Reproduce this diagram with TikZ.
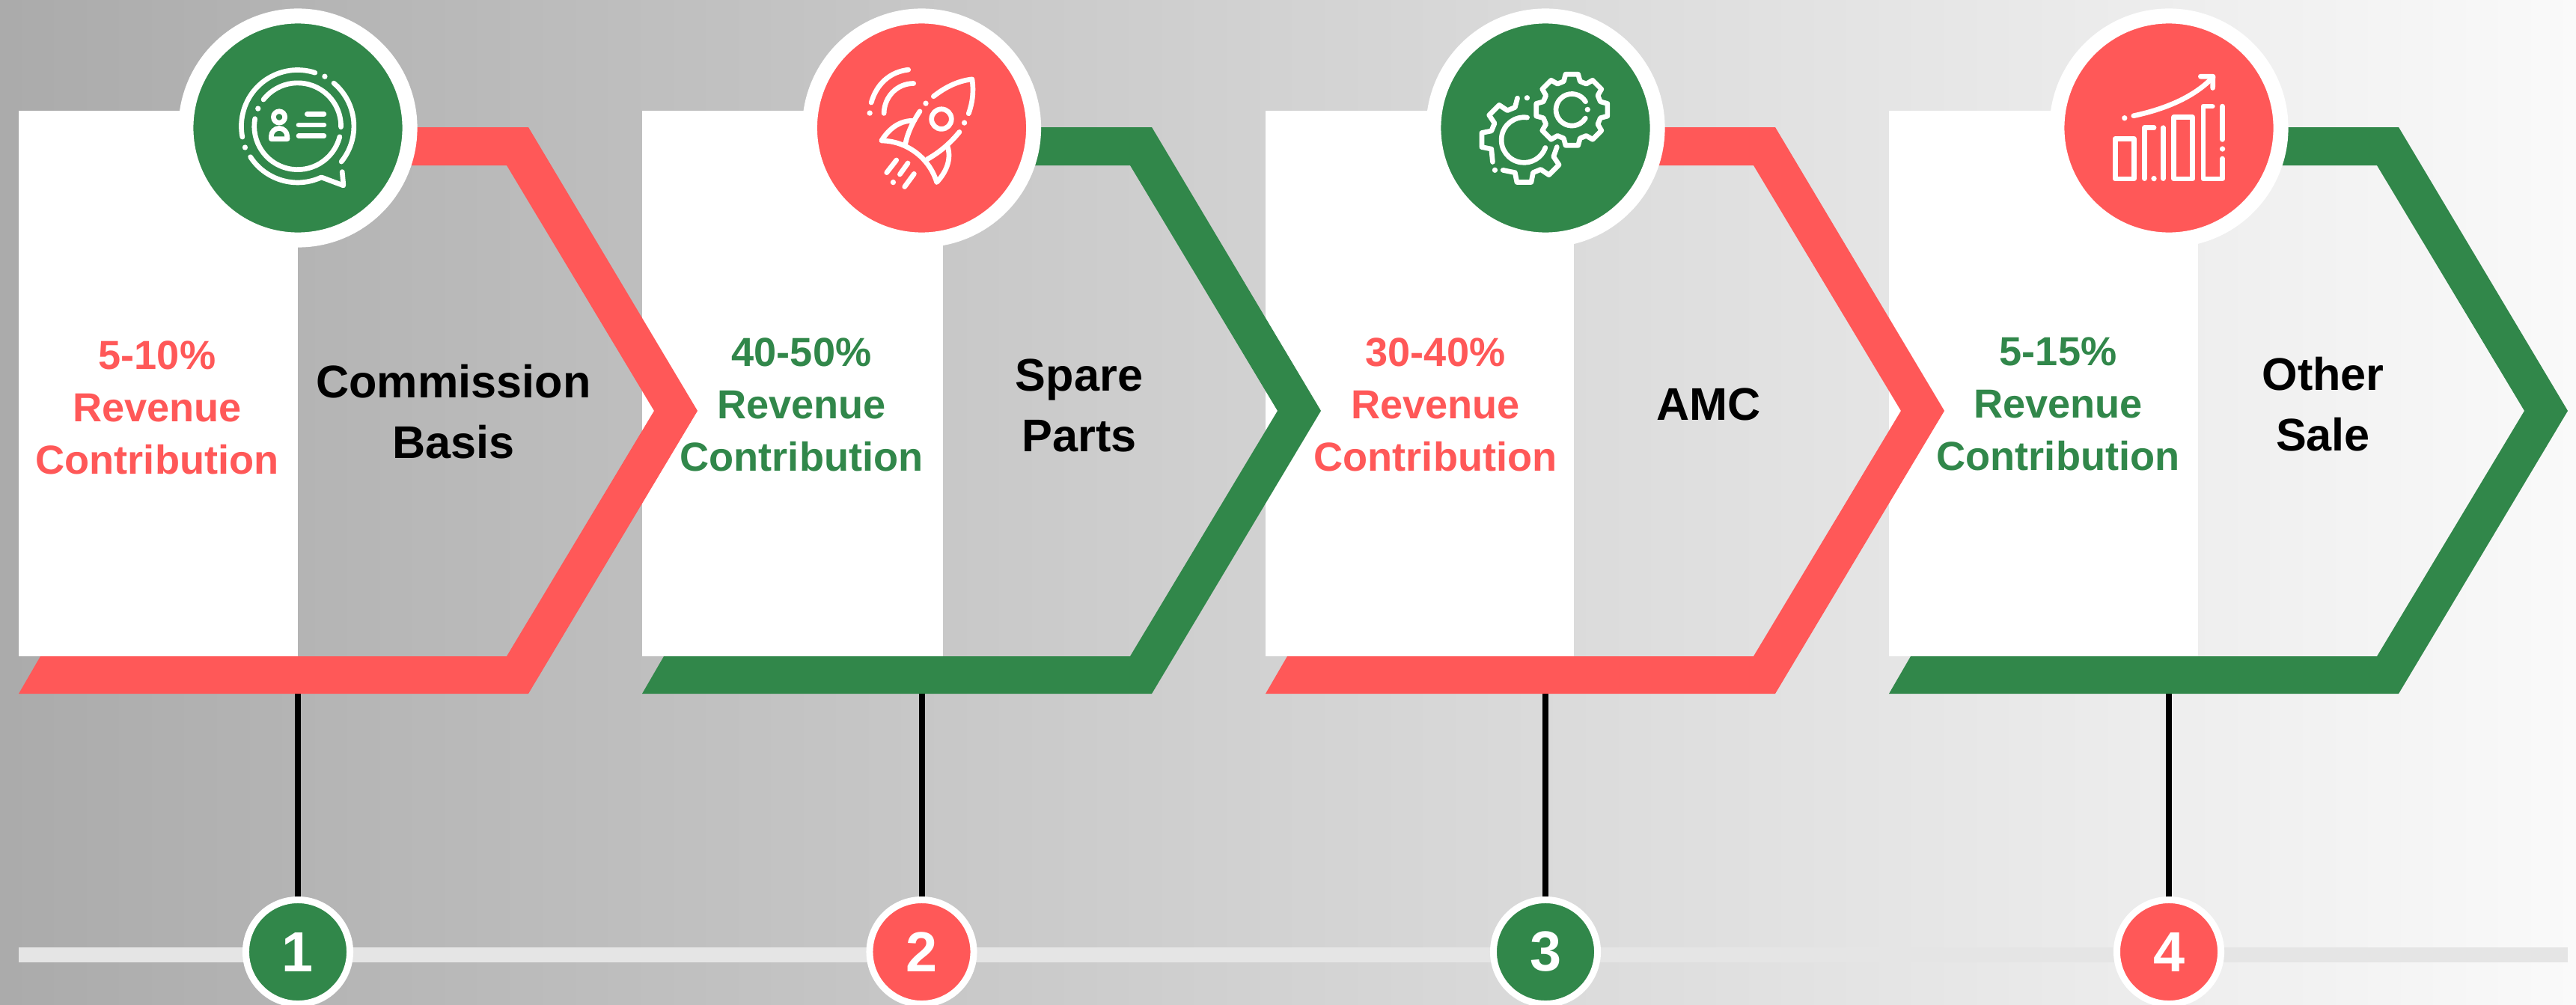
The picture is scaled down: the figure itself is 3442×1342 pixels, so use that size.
\documentclass[tikz,border=0pt]{standalone}
\usepackage{fontspec}
\setmainfont{Liberation Sans}
\definecolor{dealgreen}{HTML}{31874A}
\definecolor{dealred}{HTML}{FF5858}
\tikzset{
  badge/.style={circle,draw=white,line width=0.2cm,minimum size=2.99cm,inner sep=0pt},
  numdot/.style={circle,draw=white,line width=0.09cm,minimum size=1.39cm,inner sep=0pt,text=white,font=\fontsize{21.5}{24}\bfseries},
  share/.style={align=center,font=\fontsize{15.4}{19.9}\selectfont\bfseries},
  stream/.style={align=center,text=black,font=\fontsize{17.4}{23}\selectfont\bfseries},
  stem/.style={black,line width=0.08cm},
  iconline/.style={draw=white,line width=1.9pt,line cap=round,line join=round},
  icon/.style={x=0.003333cm,y=-0.003333cm}
}
\begin{document}
\begin{tikzpicture}[x=0.01cm,y=-0.01cm]
  \useasboundingbox (0,0) rectangle (3442,1342);
  \clip (0,0) rectangle (3442,1342);
  \shade[left color=black!33,right color=black!2] (0,0) rectangle (3442,1342);
  \fill[black!10] (25,1266) rectangle (3431,1286);
  % white panels go under the chevrons
  \foreach \dx/\xr in {0/398,833/1260,1666/2103,2499/2937}
    \fill[white] (25+\dx,148) rectangle (\xr,877);
  \foreach \i/\dx/\cx/\band/\disc in {1/0/398/dealred/dealgreen,2/833/1231.5/dealgreen/dealred,3/1666/2065/dealred/dealgreen,4/2499/2898/dealgreen/dealred}{
    \fill[\band] (\cx,170) -- (706+\dx,170) -- (932+\dx,549) -- (706+\dx,927) -- (25+\dx,927)
      -- (54+\dx,877) -- (677+\dx,877) -- (874+\dx,549) -- (677+\dx,221) -- (\cx,221) -- cycle;
    \coordinate (band\i) at (\cx,927);
    \node[badge,fill=\disc] (badge\i) at (\cx,171) {};
    \node[numdot,fill=\disc] (num\i) at (\cx,1272) {\i};
    \draw[stem] (band\i) -- (num\i);
  }
  % left column
  \node[share,text=dealred] (share1) at (210,545) {5-10\%\\Revenue\\Contribution};
  \node[share,text=dealgreen] (share2) at (1071,541) {40-50\%\\Revenue\\Contribution};
  \node[share,text=dealred] (share3) at (1918,541) {30-40\%\\Revenue\\Contribution};
  \node[share,text=dealgreen] (share4) at (2750,540) {5-15\%\\Revenue\\Contribution};
  % right column
  \node[stream] (stream1) at (606,550) {Commission\\Basis};
  \node[stream] (stream2) at (1442,542) {Spare\\Parts};
  \node[stream] (stream3) at (2283,540) {AMC};
  \node[stream] (stream4) at (3104,540) {Other\\Sale};
  % chat icon
  \begin{scope}[shift={(200,0)},icon]
    \draw[iconline] (594,507) ++(-72:226) arc[start angle=-72,end angle=-191,radius=226];
    \draw[iconline] (594,507) ++(-50:226) arc[start angle=-50,end angle=39,radius=226];
    \draw[iconline] (594,507) ++(147:226) arc[start angle=147,end angle=65,radius=226]
      -- (778,745) -- (773,690);
    \draw[iconline] (594,507) ++(-142:174) arc[start angle=-142,end angle=1,radius=174];
    \draw[iconline] (594,507) ++(14:174) arc[start angle=14,end angle=190,radius=174];
    \draw[iconline] (520,470) circle[radius=23];
    \draw[iconline] (488,558) -- (488,547) arc[start angle=180,end angle=360,radius=32] -- (553,558) -- cycle;
    \draw[iconline] (632,458) -- (700,458);
    \draw[iconline] (598,502) -- (700,502);
    \draw[iconline] (598,546) -- (700,546);
    \foreach \p in {(703,307),(383,592),(435,436)}
      \fill[white] \p circle[radius=11];
  \end{scope}
  % rocket icon
  \begin{scope}[shift={(1040,0)},icon]
    \draw[iconline] (373,412) .. controls (395,335) and (450,288) .. (522,280);
    \draw[iconline] (424,455) .. controls (425,390) and (475,335) .. (543,335);
    \draw[iconline] (623,387) .. controls (670,350) and (720,325) .. (778,318) .. controls (785,370) and (780,410) .. (764,456);
    \draw[iconline] (655,478) circle[radius=40];
    \draw[iconline] (568,447) .. controls (540,490) and (520,530) .. (510,578);
    \draw[iconline] (545,485) .. controls (490,482) and (445,515) .. (414,565) .. controls (510,565) and (605,630) .. (636,732) .. controls (675,690) and (695,640) .. (680,590);
    \draw[iconline] (727,530) .. controls (690,575) and (650,610) .. (597,640);
    \draw[iconline] (435,693) -- (474,643);
    \draw[iconline] (488,700) -- (520,655);
    \draw[iconline] (507,750) -- (545,698);
    \foreach \p in {(367,454),(592,415),(747,493),(461,732)}
      \fill[white] \p circle[radius=11];
  \end{scope}
  % gears icon
  \begin{scope}[shift={(1870,0)},icon]
    \draw[iconline] (692,441) ++(-10:145)
      \foreach \a in {0,45,...,315}{ -- ++(0,0) -- ([shift={(692,441)}]\a-10:145) -- ([shift={(692,441)}]\a+10:145) -- ([shift={(692,441)}]\a+16:119) -- ([shift={(692,441)}]\a+29:119)} -- cycle;
    \draw[iconline] (692,441) ++(-31:64) arc[start angle=-31,end angle=-328,radius=64];
    \draw[iconline] ([shift={(500,562)}]-99:170) -- ([shift={(500,562)}]-105.5:136)
      -- ([shift={(500,562)}]-119.5:136) -- ([shift={(500,562)}]-125.4:172) -- ([shift={(500,562)}]-144.6:172) -- ([shift={(500,562)}]-150.5:136)
      -- ([shift={(500,562)}]-164.5:136) -- ([shift={(500,562)}]-170.4:172) -- ([shift={(500,562)}]-189.6:172) -- ([shift={(500,562)}]-195.5:136)
      -- ([shift={(500,562)}]-215:154);
    \draw[iconline] ([shift={(500,562)}]125:148) -- ([shift={(500,562)}]105.5:136)
      -- ([shift={(500,562)}]99.6:172) -- ([shift={(500,562)}]80.4:172) -- ([shift={(500,562)}]74.5:136)
      -- ([shift={(500,562)}]60.5:136) -- ([shift={(500,562)}]54.6:172) -- ([shift={(500,562)}]35.4:172) -- ([shift={(500,562)}]29.5:136)
      -- ([shift={(500,562)}]12:135);
    \draw[iconline] (500,562) ++(-82:91) arc[start angle=-82,end angle=-340,radius=91];
    \foreach \p in {(512,393),(383,683),(755,440)}
      \fill[white] \p circle[radius=11];
  \end{scope}
  % chart icon
  \begin{scope}[shift={(2700,0)},icon]
    \draw[iconline] (379,557) rectangle (455,718);
    \draw[iconline] (497,717) -- (497,513) -- (535,513);
    \draw[iconline] (572,513) -- (572,717);
    \draw[iconline] (615,470) rectangle (690,718);
    \draw[iconline] (770,427) -- (733,427) -- (733,718) -- (810,718) -- (810,637);
    \draw[iconline] (810,427) -- (810,560);
    \draw[iconline] (453,465) .. controls (570,440) and (690,395) .. (770,312);
    \draw[iconline] (722,307) -- (772,307) -- (771,353);
    \foreach \p in {(535,717),(810,598),(417,474)}
      \fill[white] \p circle[radius=11];
  \end{scope}
\end{tikzpicture}
\end{document}
